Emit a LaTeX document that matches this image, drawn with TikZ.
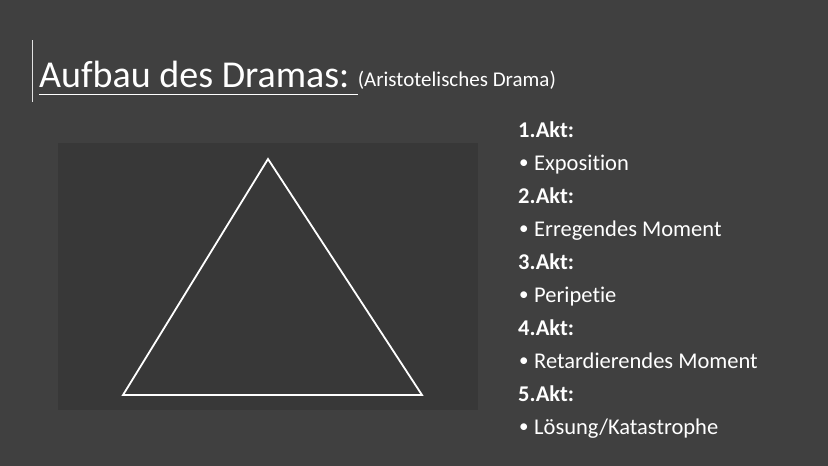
\documentclass[tikz,border=0pt]{standalone}
\usepackage{fontspec}
\setmainfont[Ligatures=NoCommon]{Carlito}
\definecolor{slidebg}{HTML}{404040}
\definecolor{panelbg}{HTML}{383838}
\newcommand{\punktzeichen}{\makebox[16pt][l]{\hspace{1pt}\raisebox{1.2pt}{\fontsize{19}{19}\selectfont\textbullet}}}
\tikzset{
  akt/.style={anchor=base west,text=white,inner sep=0pt,font=\fontsize{22.5}{24}\selectfont\bfseries},
  punkt/.style={anchor=base west,text=white,inner sep=0pt,font=\fontsize{22.5}{24}\selectfont},
}
\begin{document}
\begin{tikzpicture}[x=1pt,y=-1pt]
      % Draw background
      \fill [slidebg] (0,0) rectangle (828,466);
      \useasboundingbox (0,0) rectangle (828,466);
      \fill [panelbg] (58,143) rectangle (478,410);
      % Draw title
      \draw [white!85!slidebg,line width=0.8pt] (32.5,40) -- (32.5,102);
      \node (titel) [anchor=base west,text=white,inner sep=0pt,font=\fontsize{38}{40}\selectfont] at (39,87) {Aufbau des Dramas:\kern8pt};
      \draw [white,line width=1pt] ([yshift=-7pt]titel.base west) -- ([yshift=-7pt]titel.base east);
      \node (untertitel) [anchor=base west,text=white,inner sep=0pt,font=\fontsize{21}{23}\selectfont] at ([yshift=1pt]titel.base east) {(Aristotelisches Drama)};
      % Draw the triangle
      \coordinate (spitze) at (268,159);
      \coordinate (links) at (123,395);
      \coordinate (rechts) at (422,395);
      \draw [white,line width=1.8pt,line join=miter] (spitze) -- (links) -- (rechts) -- cycle;
      % Draw the acts
      \node (akt1) [akt] at (518,137) {1.Akt:};
      \node (p1) [punkt] at (518,170) {\punktzeichen Exposition};
      \node (akt2) [akt] at (518,203) {2.Akt:};
      \node (p2) [punkt] at (518,236) {\punktzeichen Erregendes Moment};
      \node (akt3) [akt] at (518,269) {3.Akt:};
      \node (p3) [punkt] at (518,302) {\punktzeichen Peripetie};
      \node (akt4) [akt] at (518,335) {4.Akt:};
      \node (p4) [punkt] at (518,368) {\punktzeichen Retardierendes Moment};
      \node (akt5) [akt] at (518,401) {5.Akt:};
      \node (p5) [punkt] at (518,434) {\punktzeichen Lösung/Katastrophe};
    \end{tikzpicture}
\end{document}
